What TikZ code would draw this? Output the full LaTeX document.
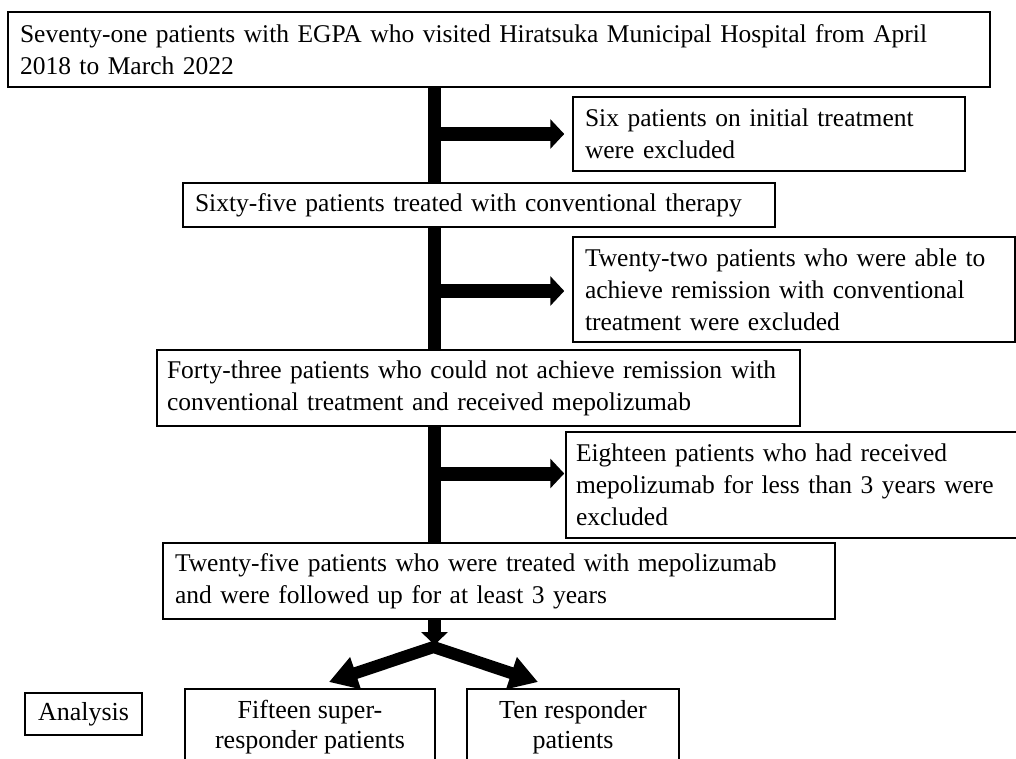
\documentclass[tikz,border=0pt]{standalone}
\usepackage{fontspec}
\setmainfont{Liberation Serif}
\usetikzlibrary{arrows.meta,calc}
\newcommand{\fsz}{\fontsize{25.5}{32}\selectfont\hyphenpenalty=10000\exhyphenpenalty=10000}
\newcommand{\fszb}{\fontsize{26}{30.5}\selectfont}
\begin{document}
\begin{tikzpicture}[x=1pt,y=-1pt,
  box/.style={draw, line width=1.5pt, fill=white, inner xsep=12pt, inner ysep=0pt, align=left, font=\fsz},
  cbox/.style={draw, line width=1.5pt, fill=white, inner xsep=6pt, inner ysep=0pt, align=center, font=\fszb},
  spine/.style={line width=13pt},
  harrow/.style={line width=14pt, -{Triangle[width=29pt,length=14pt]}},
  darrow/.style={line width=13pt, -{Triangle[width=26pt,length=13pt]}},
  varrow/.style={line width=12pt, line join=miter, {Triangle[width=32pt,length=28pt]}-{Triangle[width=32pt,length=28pt]}}
]
\useasboundingbox (0,0) rectangle (1016,758);
\clip (0,0) rectangle (1016,758);
\fill[white] (0,0) rectangle (1016,758);
\coordinate (sp) at (434.5,0);

\node[box, text width=958pt, minimum height=75pt] (n1) at (499,49.5)
  {Seventy-one patients with EGPA who visited Hiratsuka Municipal Hospital from April\\2018 to March 2022};
\node[box, text width=368pt, minimum height=74pt] (n2) at (769,134)
  {Six patients on initial treatment\\were excluded};
\node[box, text width=568pt, minimum height=44pt] (n3) at (479,205)
  {Sixty-five patients treated with conventional therapy};
\node[box, text width=418pt, minimum height=105pt] (n4) at (794,289.5)
  {Twenty-two patients who were able to\\achieve remission with conventional\\treatment were excluded};
\node[box, inner xsep=10pt, text width=623pt, minimum height=76pt] (n5) at (478.5,388)
  {Forty-three patients who could not achieve remission with\\conventional treatment and received mepolizumab};
\node[box, inner xsep=10pt, text width=434pt, minimum height=106pt] (n6) at (793,485)
  {Eighteen patients who had received\\mepolizumab for less than 3 years were\\excluded};
\node[box, text width=648pt, minimum height=76pt] (n7) at (499,581)
  {Twenty-five patients who were treated with mepolizumab\\and were followed up for at least 3 years};
\node[cbox, minimum width=117pt, minimum height=42pt] (an) at (83.5,714) {Analysis};
\node[cbox, minimum width=250pt, minimum height=76pt] (n8) at (310,727)
  {Fifteen super-\\responder patients};
\node[cbox, minimum width=212pt, minimum height=76pt] (n9) at (573,727)
  {Ten responder\\patients};

\draw[spine] (n1.south -| sp) -- (n3.north -| sp);
\draw[spine] (n3.south -| sp) -- (n5.north -| sp);
\draw[spine] (n5.south -| sp) -- (n7.north -| sp);

\draw[harrow, shorten >=8pt] (sp |- n2.west) -- (n2.west);
\draw[harrow, shorten >=8pt] (sp |- 0,291) -- (n4.west |- 0,291);
\draw[harrow, shorten >=1pt] (sp |- 0,473.5) -- (n6.west |- 0,473.5);

\coordinate (apex) at (433.5,647);
\coordinate (ltip) at (329,682);
\coordinate (rtip) at (538,682);
\draw[darrow] (n7.south -| sp) -- (sp |- 0,645);
\draw[varrow] (ltip) -- (apex) -- (rtip);
\end{tikzpicture}
\end{document}
